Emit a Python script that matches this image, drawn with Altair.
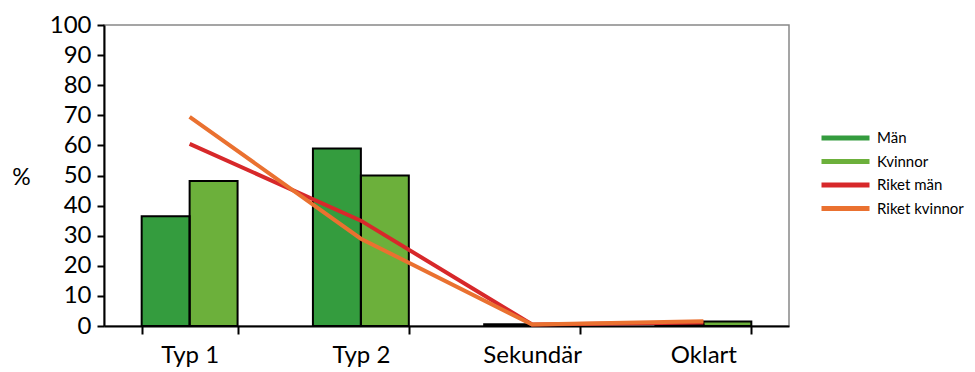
import altair as alt
import pandas as pd

categories = ["Typ 1", "Typ 2", "Sekundär", "Oklart"]
man = [36.5, 59.0, 0.6, 0.4]
kvinnor = [48.2, 50.0, 0.3, 1.5]
riket_man = [60.5, 35.0, 0.5, 1.2]
riket_kvinnor = [69.5, 29.0, 0.5, 1.6]

series = ["Män", "Kvinnor", "Riket män", "Riket kvinnor"]
colors = ["#349c3e", "#6cb03b", "#d7282a", "#ea7130"]

bars = pd.DataFrame(
    [{"kat": c, "serie": "Män", "v": v} for c, v in zip(categories, man)]
    + [{"kat": c, "serie": "Kvinnor", "v": v} for c, v in zip(categories, kvinnor)]
)
lines = pd.DataFrame(
    [{"kat": c, "serie": "Riket män", "v": v} for c, v in zip(categories, riket_man)]
    + [{"kat": c, "serie": "Riket kvinnor", "v": v} for c, v in zip(categories, riket_kvinnor)]
)

FONT = "Lato"

xscale = alt.Scale(domain=categories, paddingInner=0.44, paddingOuter=0.22)
yscale = alt.Scale(domain=[0, 100])
color_scale = alt.Scale(domain=series, range=colors)
offset_scale = alt.Scale(paddingInner=0, paddingOuter=0)

xaxis = alt.Axis(title=None, tickBand="extent", labelAngle=0, labelPadding=9)
yaxis = alt.Axis(
    title="%", titleAngle=0, titleX=-83, titleY=152, titleAlign="center", titleBaseline="middle",
    values=[0, 10, 20, 30, 40, 50, 60, 70, 80, 90, 100], grid=False,
    labelPadding=6, labelBaseline="middle", tickSize=7,
)
legend = alt.Legend(title=None, orient="none", legendX=715, legendY=103, values=series)

X = alt.X("kat:N", scale=xscale, sort=categories, axis=xaxis)
Y = alt.Y("v:Q", scale=yscale, axis=yaxis)
XO = alt.XOffset("serie:N", sort=["Män", "Kvinnor"], scale=offset_scale)
C = alt.Color("serie:N", scale=color_scale, legend=legend)

bar_fill = alt.Chart(bars).mark_bar(strokeWidth=0).encode(x=X, xOffset=XO, y=Y, color=C)
bar_outline = alt.Chart(bars).mark_bar(fill=None, fillOpacity=0, stroke="black", strokeWidth=2).encode(
    x=X, xOffset=XO, y=Y
)
line_layer = alt.Chart(lines).mark_line(strokeWidth=4).encode(x=X, y=Y, color=C)

chart = (
    alt.layer(bar_fill, bar_outline, line_layer)
    .properties(width=685, height=301, padding={"left": 96, "top": 17, "right": 177, "bottom": 44},
                autosize=alt.AutoSizeParams(type="none"), background="white")
    .configure_view(stroke="#888888", strokeWidth=1.5)
    .configure_axis(
        labelFont=FONT, labelFontSize=24, labelColor="black", labelOverlap=False,
        titleFont=FONT, titleFontSize=23, titleFontWeight="normal", titleColor="black",
        domainColor="black", domainWidth=2, tickColor="black", tickWidth=2, tickSize=8,
    )
    .configure_legend(
        symbolType="stroke", symbolStrokeWidth=5, symbolSize=2304, labelFontSize=15,
        labelFont=FONT, labelColor="black", rowPadding=3.5, labelOffset=5,
        clipHeight=20, padding=0,
    )
)

chart.save("out.html", embed_options={"renderer": "svg", "actions": False})
